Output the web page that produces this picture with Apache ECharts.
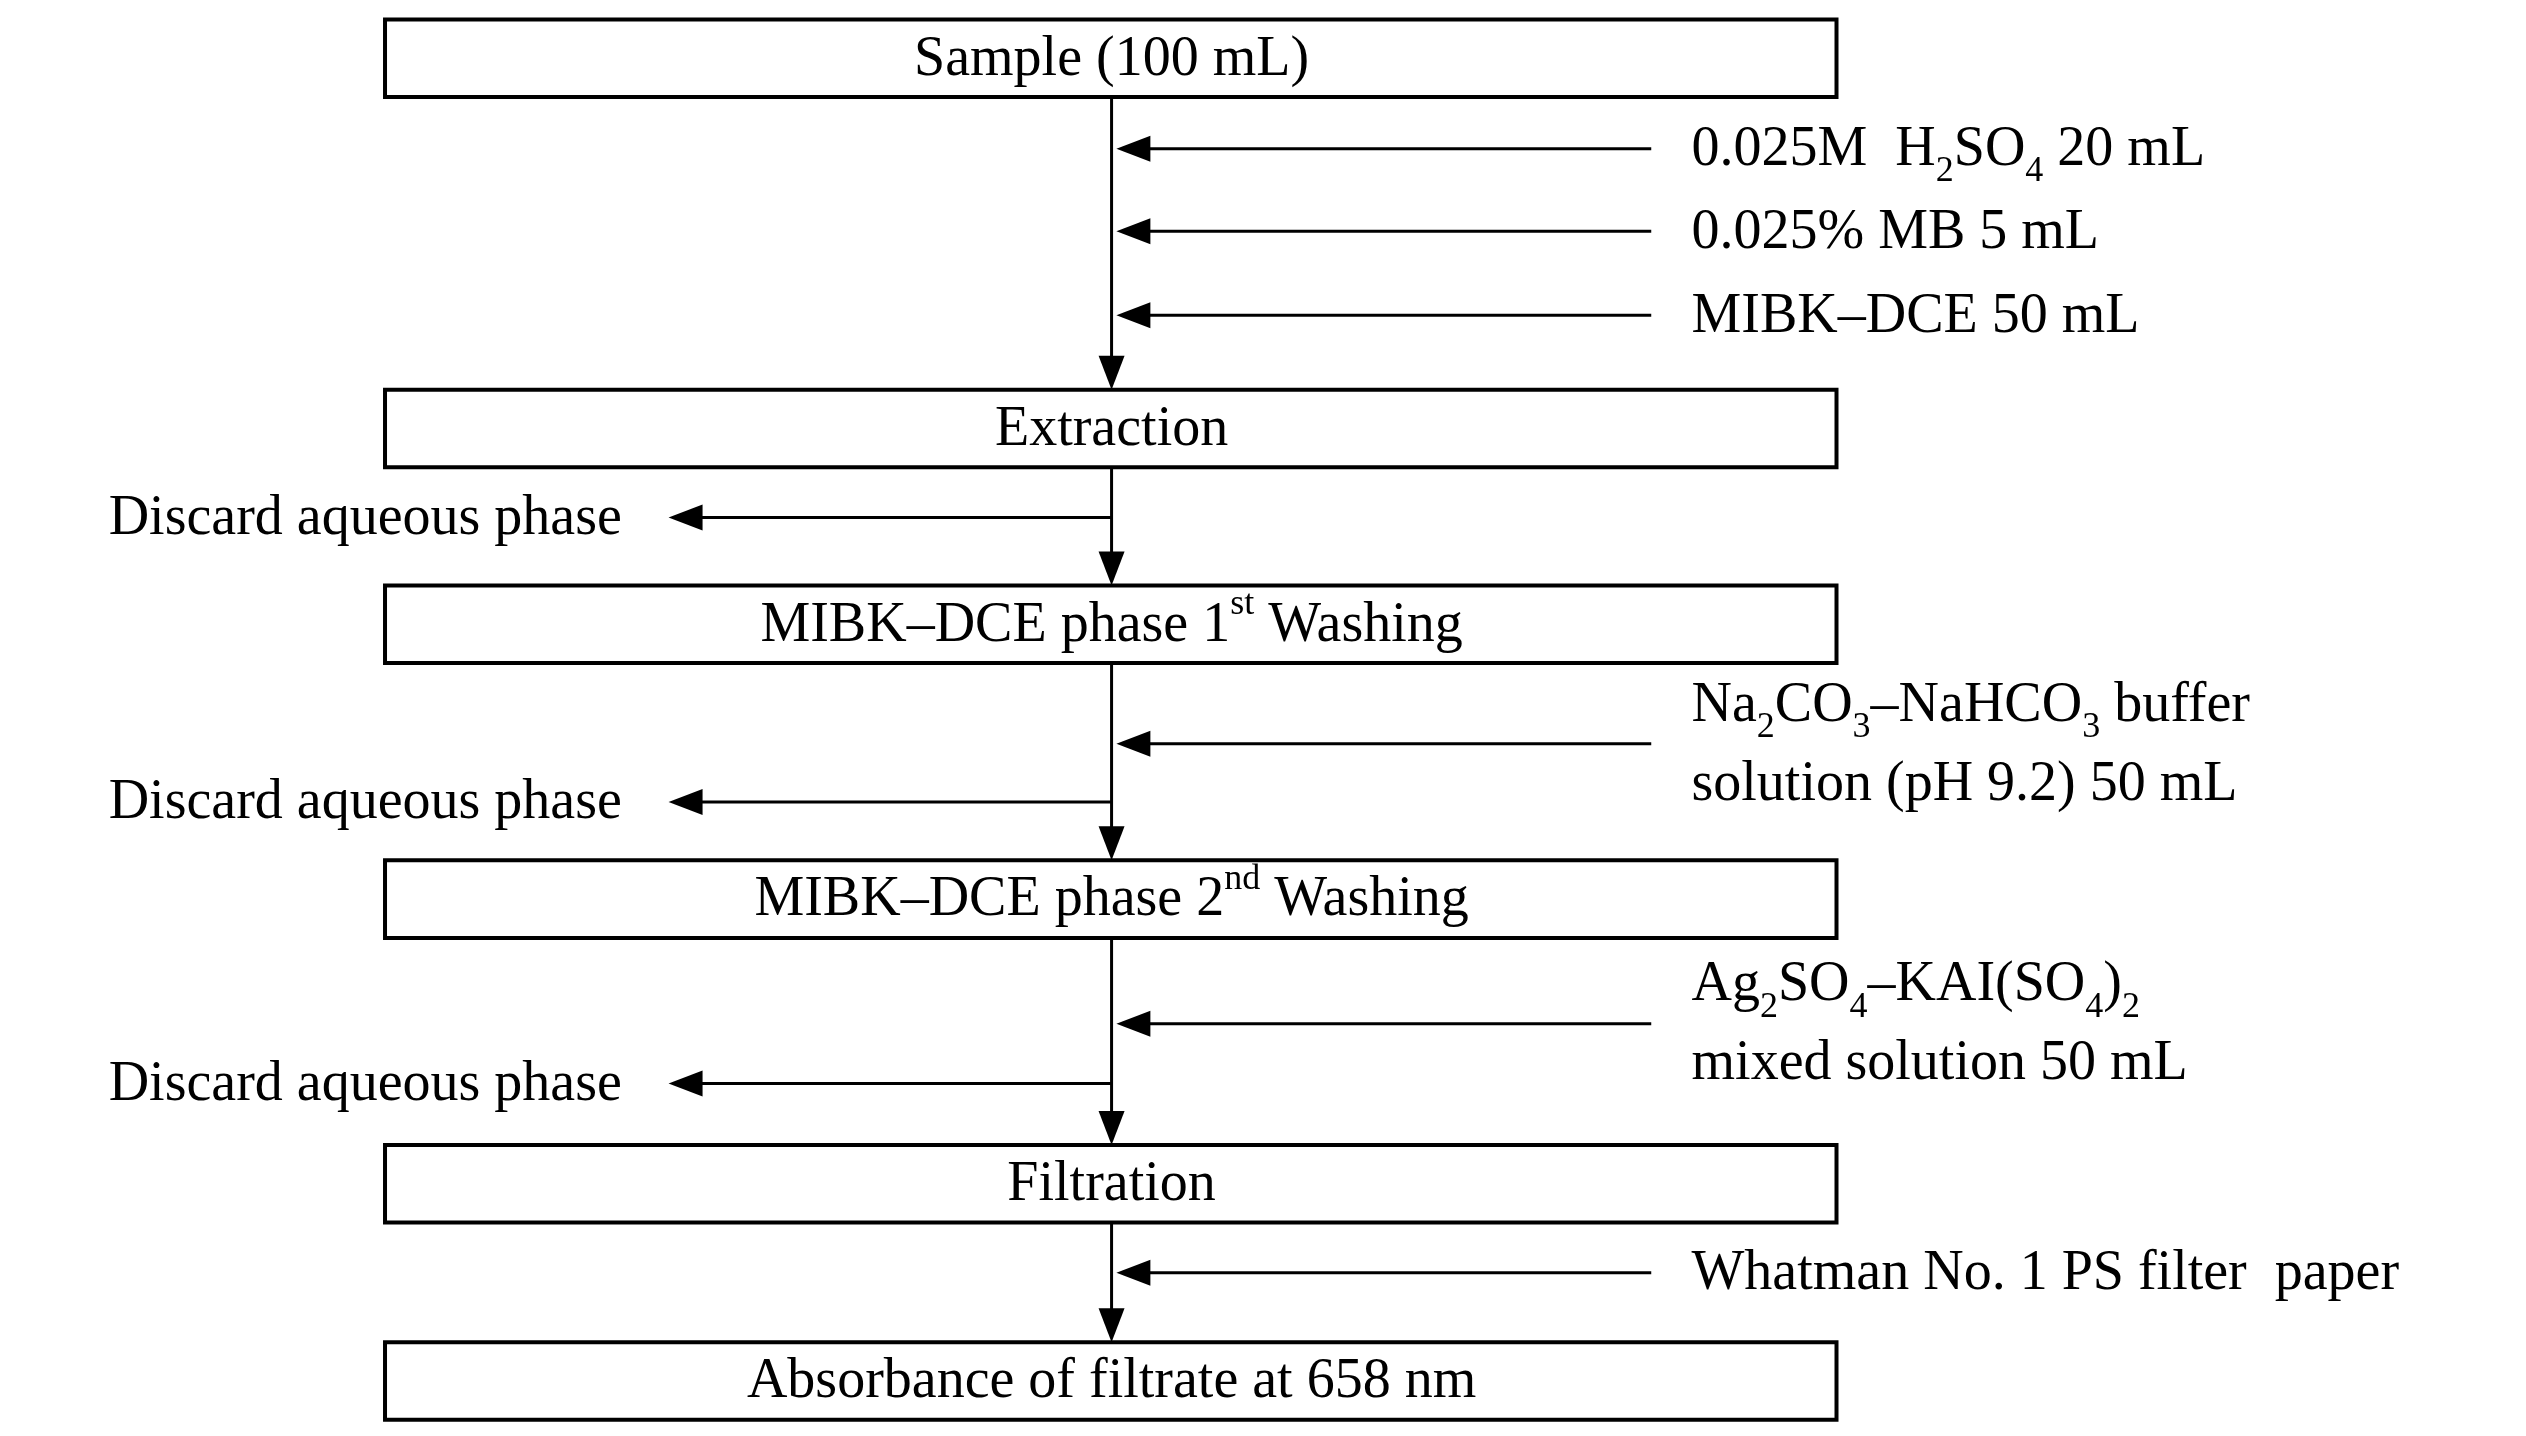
<!DOCTYPE html>
<html>
<head>
<meta charset="utf-8">
<script src="https://cdn.jsdelivr.net/npm/echarts@6/dist/echarts.min.js"></script>
<style>html,body{margin:0;padding:0;background:#fff}#chart{width:2526px;height:1436px}</style>
</head>
<body>
<div id="chart"></div>
<script>
// 流程图 - drawn on a hidden value grid (units follow the picture, 1568 x 888)
var boxLabels = ['Sample (100 mL)', 'Extraction', 'MIBK\u2013DCE phase 1{sup|st} Washing',
    'MIBK\u2013DCE phase 2{sup|nd} Washing', 'Filtration', 'Absorbance of filtrate at 658 nm'];
var boxTops = [12, 241, 362, 532, 708, 830];
var boxBottoms = [60, 289, 410, 580, 756, 878];
var addLabels = ['0.025M  H{sub|2}SO{sub|4} 20 mL', '0.025% MB 5 mL', 'MIBK\u2013DCE 50 mL',
    'Na{sub|2}CO{sub|3}\u2013NaHCO{sub|3} buffer\nsolution (pH 9.2) 50 mL',
    'Ag{sub|2}SO{sub|4}\u2013KAI(SO{sub|4}){sub|2}\nmixed solution 50 mL',
    'Whatman No. 1 PS filter  paper'];
var addY = [92, 143, 195, 460, 633, 787];
var discardLabels = ['Discard aqueous phase', 'Discard aqueous phase', 'Discard aqueous phase'];
var discardY = [320, 496, 670];

var boxLeft = 239, boxRight = 1140, mainX = 690, addStart = 1025, textX = 1050, discardEnd = 415;
var FONT = 'Liberation Serif';
var rich = {
    sub: {fontSize: 36, fontFamily: FONT, color: '#000', verticalAlign: 'bottom', padding: [22, 0, 0, 0]},
    sup: {fontSize: 36, fontFamily: FONT, color: '#000', verticalAlign: 'top', padding: [0, 0, 22, 0]}
};
var chart = echarts.init(document.getElementById('chart'));

function arrowHead(api, tip, dir) {
    // dir: 'down' | 'left'
    var p = api.coord(tip), L = 34, W = 13, pts;
    if (dir === 'down') pts = [[p[0], p[1]], [p[0] - W, p[1] - L], [p[0] + W, p[1] - L]];
    else pts = [[p[0], p[1]], [p[0] + L, p[1] - W], [p[0] + L, p[1] + W]];
    return {type: 'polygon', shape: {points: pts}, style: {fill: '#000'}};
}
function line(api, a, b) {
    var p = api.coord(a), q = api.coord(b);
    return {type: 'line', shape: {x1: p[0], y1: p[1], x2: q[0], y2: q[1]}, style: {stroke: '#000', lineWidth: 3}};
}
function txt(api, at, s, align) {
    var p = api.coord(at);
    return {type: 'text', x: p[0], y: p[1], style: {text: s, rich: rich, fontSize: 56, fontFamily: FONT,
        fill: '#000', align: align, verticalAlign: 'middle', lineHeight: 79}};
}

chart.setOption({
    animation: false,
    grid: {left: 0, right: 0, top: 0, bottom: 0},
    xAxis: {type: 'value', min: 0, max: 1568, show: false},
    yAxis: {type: 'value', min: 0, max: 888, inverse: true, show: false},
    series: [
        {
            type: 'custom', silent: true,
            data: boxLabels.map(function (d, i) { return [i]; }),
            renderItem: function (params, api) {
                var i = api.value(0);
                var p = api.coord([boxLeft, boxTops[i]]), q = api.coord([boxRight, boxBottoms[i]]);
                var kids = [
                    {type: 'rect', shape: {x: p[0], y: p[1], width: q[0] - p[0], height: q[1] - p[1]},
                        style: {fill: '#fff', stroke: '#000', lineWidth: 4}},
                    txt(api, [mainX, (boxTops[i] + boxBottoms[i]) / 2 + 1], boxLabels[i], 'center')
                ];
                if (i > 0) {
                    kids.push(line(api, [mainX, boxBottoms[i - 1]], [mainX, boxTops[i] - 4]));
                    kids.push(arrowHead(api, [mainX, boxTops[i]], 'down'));
                }
                return {type: 'group', children: kids};
            }
        },
        {
            type: 'custom', silent: true,
            data: addLabels.map(function (d, i) { return [i]; }),
            renderItem: function (params, api) {
                var i = api.value(0);
                return {type: 'group', children: [
                    line(api, [addStart, addY[i]], [mainX + 20, addY[i]]),
                    arrowHead(api, [mainX + 3, addY[i]], 'left'),
                    txt(api, [textX, addY[i] + 1], addLabels[i], 'left')
                ]};
            }
        },
        {
            type: 'custom', silent: true,
            data: discardLabels.map(function (d, i) { return [i]; }),
            renderItem: function (params, api) {
                var i = api.value(0);
                return {type: 'group', children: [
                    line(api, [mainX, discardY[i]], [discardEnd + 15, discardY[i]]),
                    arrowHead(api, [discardEnd, discardY[i]], 'left'),
                    txt(api, [386, discardY[i] + 1], discardLabels[i], 'right')
                ]};
            }
        }
    ]
});
</script>
</body>
</html>
